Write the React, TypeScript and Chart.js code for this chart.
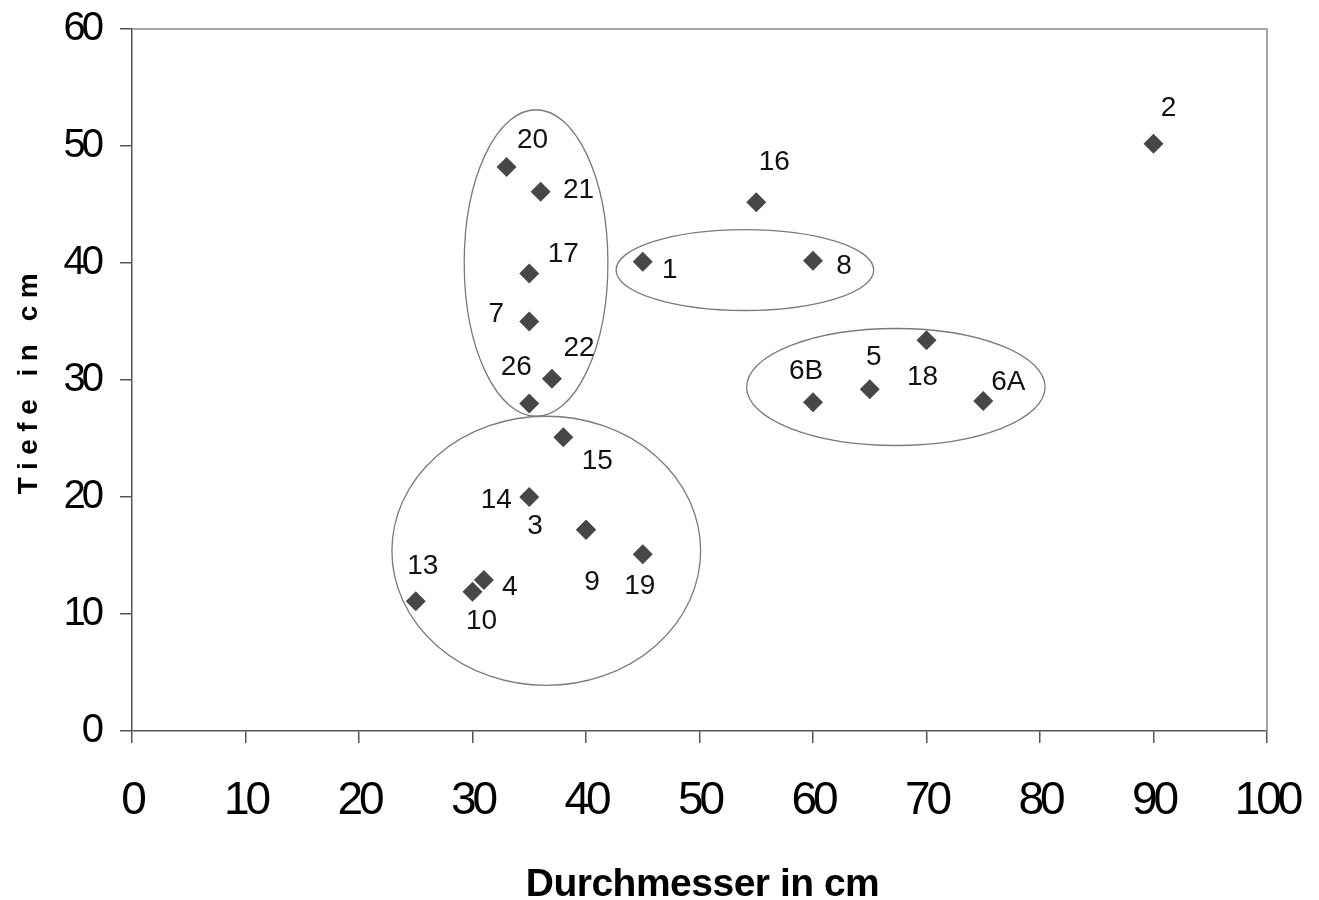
import React, { useEffect, useRef } from "react";
import { Chart, registerables } from "chart.js";

Chart.register(...registerables);

// ---- data ----
const pointNames = ["2", "16", "8", "1", "20", "21", "17", "7", "22", "26", "15", "14", "3", "9", "19", "13", "10", "4", "6B", "5", "18", "6A"];
const diameters = [90, 55, 60, 45, 33, 36, 35, 35, 37, 35, 38, 35, 40, 40, 45, 25, 30, 31, 60, 65, 70, 75];
const depths = [50.2, 45.2, 40.2, 40.1, 48.2, 46.1, 39.1, 35, 30.1, 28, 25.1, 20, 17.2, 17.2, 15.1, 11.1, 11.9, 12.9, 28.1, 29.2, 33.4, 28.2];
const xTickStep = 10;
const yTickStep = 10;
const xTitle = "Durchmesser in cm";
const yTitle = "Tiefe in cm";
// group ellipses in data units
const groupCx = [35.6, 36.5, 54.0, 67.3];
const groupCy = [40.0, 15.4, 39.4, 29.4];
const groupRx = [6.33, 13.6, 11.35, 13.15];
const groupRy = [13.1, 11.5, 3.46, 5.0];

// ---- styling (pixel offsets of the labels) ----
const labelOffsets: [number, number][] = [
  [15, -35], [18, -40], [31, 6], [27, 8], [26, -27], [38, -1], [34, -19], [-33, -7], [27, -31], [-13, -36],
  [34, 24], [-33, 3], [-51, -3], [6, 53], [-3, 32], [7, -35], [9, 30], [26, 7], [-7, -31], [4, -32], [-4, 37], [25, -19],
];

const SANS = "'Liberation Sans', Arial, sans-serif";

const decorPlugin = {
  id: "decor",
  beforeDraw(chart: any) {
    (chart.ctx as any).letterSpacing = "-4px";
  },
  beforeDatasetsDraw(chart: any) {
    const { ctx, chartArea, scales } = chart;
    const xs = scales.x;
    const ys = scales.y;
    ctx.save();
    (ctx as any).letterSpacing = "0px";
    // frame top/right
    ctx.strokeStyle = "#8a8a8a";
    ctx.lineWidth = 1.5;
    ctx.beginPath();
    ctx.moveTo(chartArea.left, chartArea.top);
    ctx.lineTo(chartArea.right, chartArea.top);
    ctx.lineTo(chartArea.right, chartArea.bottom);
    ctx.stroke();
    // ellipses
    ctx.strokeStyle = "#7a7a7a";
    ctx.lineWidth = 1.3;
    for (let i = 0; i < groupCx.length; i++) {
      const cx = xs.getPixelForValue(groupCx[i]);
      const cy = ys.getPixelForValue(groupCy[i]);
      const rx = Math.abs(xs.getPixelForValue(groupCx[i] + groupRx[i]) - cx);
      const ry = Math.abs(ys.getPixelForValue(groupCy[i] + groupRy[i]) - cy);
      ctx.beginPath();
      ctx.ellipse(cx, cy, rx, ry, 0, 0, Math.PI * 2);
      ctx.stroke();
    }
    ctx.restore();
  },
  afterDatasetsDraw(chart: any) {
    const { ctx, scales, chartArea } = chart;
    const xs = scales.x;
    const ys = scales.y;
    ctx.save();
    (ctx as any).letterSpacing = "0px";
    ctx.fillStyle = "#111";
    ctx.font = `28px ${SANS}`;
    ctx.textAlign = "center";
    ctx.textBaseline = "middle";
    for (let i = 0; i < pointNames.length; i++) {
      const px = xs.getPixelForValue(diameters[i]);
      const py = ys.getPixelForValue(depths[i]);
      const [dx, dy] = labelOffsets[i];
      ctx.fillText(pointNames[i], px + dx, py + dy);
    }
    // axis titles
    ctx.fillStyle = "#000";
    ctx.font = `bold 39px ${SANS}`;
    ctx.textBaseline = "alphabetic";
    (ctx as any).letterSpacing = "-0.5px";
    ctx.fillText(xTitle, (chartArea.left + chartArea.right) / 2 + 3, 896);
    ctx.translate(37, 383);
    ctx.rotate(-Math.PI / 2);
    ctx.font = `bold 28px ${SANS}`;
    (ctx as any).letterSpacing = "7.5px";
    ctx.fillText(yTitle, 3, 0);
    ctx.restore();
  },
  afterDraw(chart: any) {
    (chart.ctx as any).letterSpacing = "0px";
  },
};

export default function App() {
  const ref = useRef<HTMLCanvasElement | null>(null);
  useEffect(() => {
    if (!ref.current) return;
    const chart = new Chart(ref.current, {
      type: "scatter",
      data: {
        datasets: [
          {
            label: "Gruben",
            data: diameters.map((d, i) => ({ x: d, y: depths[i] })),
            pointStyle: "rectRot",
            pointRadius: 10,
            backgroundColor: "#474747",
            borderColor: "#474747",
            borderWidth: 0,
          },
        ],
      },
      options: {
        animation: false,
        responsive: false,
        layout: { padding: { top: 29, right: 52, left: 0, bottom: 0 } },
        plugins: { legend: { display: false }, tooltip: { enabled: false } },
        scales: {
          x: {
            type: "linear",
            min: 0,
            max: 100,
            afterFit: (s: any) => { s.height = 169; s.paddingLeft = 0; s.paddingRight = 0; },
            ticks: { stepSize: xTickStep, color: "#000", font: { size: 46, family: SANS }, padding: 31, maxRotation: 0 },
            grid: { drawOnChartArea: false, drawTicks: true, tickLength: 12, color: "#555", lineWidth: 1.5 },
            border: { display: true, color: "#555", width: 1.5 },
          },
          y: {
            type: "linear",
            min: 0,
            max: 60,
            afterFit: (s: any) => { s.width = 132; s.paddingTop = 0; s.paddingBottom = 0; },
            ticks: { stepSize: yTickStep, color: "#000", font: { size: 40, family: SANS }, padding: 20 },
            grid: { drawOnChartArea: false, drawTicks: true, tickLength: 12, color: "#555", lineWidth: 1.5 },
            border: { display: true, color: "#555", width: 1.5 },
          },
        },
      },
      plugins: [decorPlugin],
    });
    return () => chart.destroy();
  }, []);
  return (
    <div style={{ position: "fixed", left: 0, top: 0, width: 1319, height: 900, background: "#fff" }}>
      <canvas ref={ref} width={1319} height={900} />
    </div>
  );
}
